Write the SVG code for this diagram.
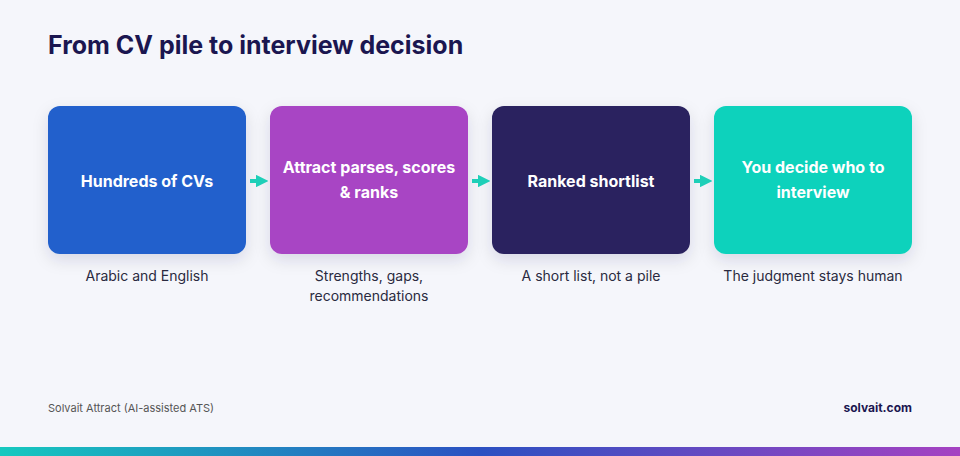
<svg xmlns="http://www.w3.org/2000/svg" width="960" height="456" viewBox="0 0 960 456">
<defs>
<linearGradient id="bar" x1="0" x2="1" y1="0" y2="0"><stop offset="0" stop-color="#16c9bf"/><stop offset="0.5" stop-color="#2b50c2"/><stop offset="1" stop-color="#a542c2"/></linearGradient>
<filter id="sh" x="-20%" y="-20%" width="140%" height="150%"><feDropShadow dx="0" dy="6" stdDeviation="8" flood-color="#1e1b4b" flood-opacity="0.12"/></filter>
<marker id="ah" viewBox="0 0 10 10" refX="5" refY="5" markerWidth="3.2" markerHeight="3.2" orient="auto"><path d="M0,0 L10,5 L0,10 z" fill="#1ecfb8"/></marker>
</defs>
<style>
.box{filter:url(#sh)}
.lbl{font-family:Inter,"Noto Sans",sans-serif;font-weight:700;font-size:16px;fill:#fff;text-anchor:middle}
.sub{font-family:Inter,"Noto Sans",sans-serif;font-size:14px;fill:#2a2a40;text-anchor:middle}
.con{stroke:#1ecfb8;stroke-width:4;fill:none;marker-end:url(#ah)}
</style>
<rect width="960" height="456" fill="#f5f6fb"/>
<text x="48" y="54" font-family="Inter,'Noto Sans',sans-serif" font-weight="700" font-size="25" fill="#1b1650">From CV pile to interview decision</text>
<g id="n1"><rect class="box" x="48" y="106" width="198" height="148" rx="12" fill="#2060cc"/><text class="lbl" x="147" y="187">Hundreds of CVs</text><text class="sub" x="147" y="281">Arabic and English</text></g>
<g id="n2"><rect class="box" x="270" y="106" width="198" height="148" rx="12" fill="#a845c4"/><text class="lbl" x="369" y="173">Attract parses, scores</text><text class="lbl" x="369" y="198">&amp; ranks</text><text class="sub" x="369" y="281">Strengths, gaps,</text><text class="sub" x="369" y="301">recommendations</text></g>
<g id="n3"><rect class="box" x="492" y="106" width="198" height="148" rx="12" fill="#29235e"/><text class="lbl" x="591" y="187">Ranked shortlist</text><text class="sub" x="591" y="281">A short list, not a pile</text></g>
<g id="n4"><rect class="box" x="714" y="106" width="198" height="148" rx="12" fill="#0fd2bc"/><text class="lbl" x="813" y="173">You decide who to</text><text class="lbl" x="813" y="198">interview</text><text class="sub" x="813" y="281">The judgment stays human</text></g>
<g id="connectors">
<line class="con" x1="250" y1="181" x2="262" y2="181"/>
<line class="con" x1="472" y1="181" x2="484" y2="181"/>
<line class="con" x1="694" y1="181" x2="706" y2="181"/>
</g>
<text x="48" y="412" font-family="Inter,'Noto Sans',sans-serif" font-size="11" fill="#555">Solvait Attract (AI-assisted ATS)</text>
<text x="912" y="412" text-anchor="end" font-family="Inter,'Noto Sans',sans-serif" font-weight="700" font-size="12" fill="#1b1650">solvait.com</text>
<rect x="0" y="447" width="960" height="9" fill="url(#bar)"/>
</svg>
